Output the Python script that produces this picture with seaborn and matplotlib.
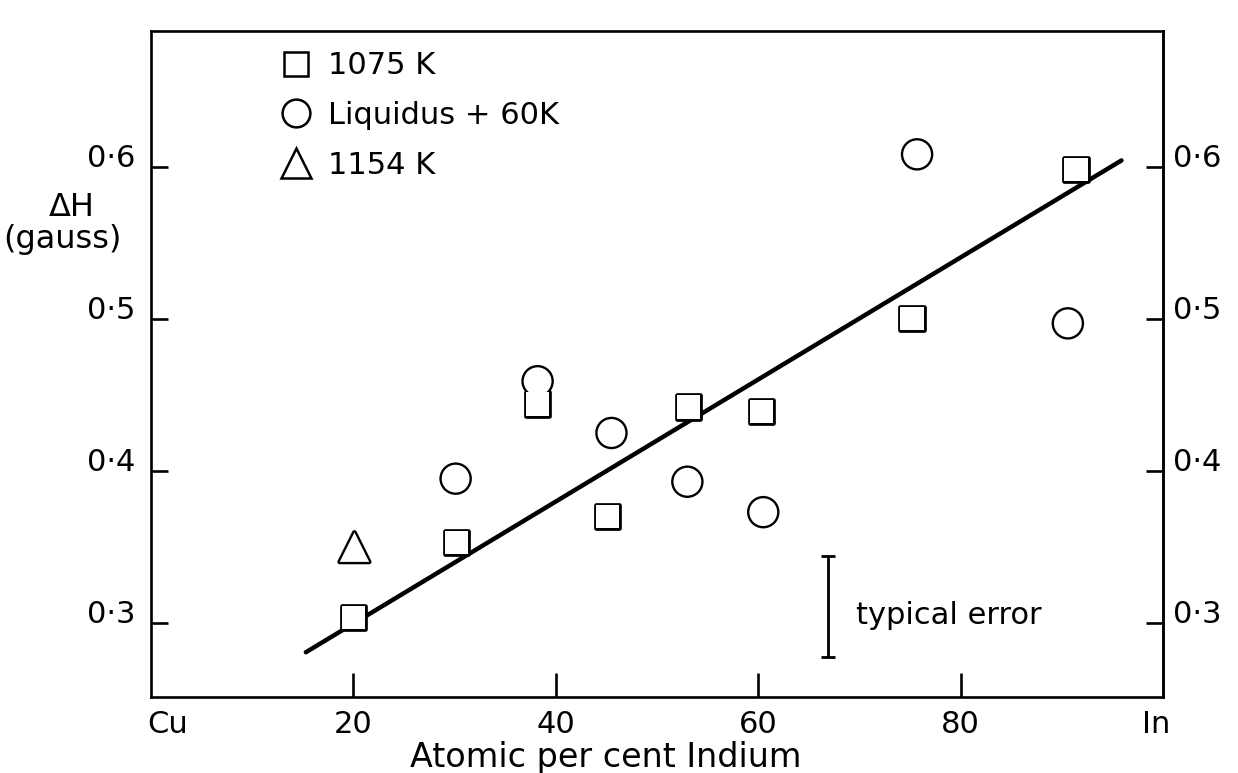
import numpy as np
import pandas as pd
import matplotlib
matplotlib.use("Agg")
import matplotlib.pyplot as plt
import seaborn as sns
from matplotlib.lines import Line2D
from matplotlib.ticker import FixedLocator, FixedFormatter

# --- data -----------------------------------------------------------------
series_names = ["1075 K", "Liquidus + 60K", "1154 K"]

sq_x = [20.0, 30.2, 38.2, 45.1, 53.1, 60.3, 75.2, 91.4]
sq_y = [0.304, 0.353, 0.444, 0.370, 0.442, 0.439, 0.500, 0.598]

ci_x = [30.1, 38.2, 45.5, 53.0, 60.5, 75.7, 90.6]
ci_y = [0.395, 0.459, 0.425, 0.393, 0.373, 0.608, 0.497]

tri_x = [20.1]
tri_y = [0.350]

fit_x = [15.3, 95.9]
fit_y = [0.281, 0.604]

err_x = [66.9]
err_y = [0.311]
err_half = [0.033]

y_ticks = [0.3, 0.4, 0.5, 0.6]
y_tick_labels = ["0·3", "0·4", "0·5", "0·6"]
x_ticks = [20, 40, 60, 80]
x_tick_labels = ["20", "40", "60", "80"]
end_ticks = [1.6, 99.3]
end_labels = ["Cu", "In"]

# --- styling --------------------------------------------------------------
sns.set_style("white")
plt.rcParams["font.family"] = ["DejaVu Sans"]
FS_TICK_X = 22
FS_TICK_Y = 22
FS_TEXT = 22
INK = "black"
LW_AX = 1.9

df = pd.DataFrame({
    "x": sq_x + ci_x + tri_x,
    "y": sq_y + ci_y + tri_y,
    "series": [series_names[0]] * len(sq_x)
              + [series_names[1]] * len(ci_x)
              + [series_names[2]] * len(tri_x),
})
markers = {series_names[0]: "s", series_names[1]: "o", series_names[2]: "^"}
sizes = {series_names[0]: 280, series_names[1]: 400, series_names[2]: 450}

fig = plt.figure(figsize=(12.38, 7.73), dpi=100)
ax = fig.add_axes([0.122, 0.0983, 0.8174, 0.8616])

# straight-line fit
sns.lineplot(x=fit_x, y=fit_y, color=INK, linewidth=3.2, ax=ax, zorder=2,
             solid_capstyle="round")

# open symbols: outlined layer, then a white layer so overlapping
# outlines merge into one contour
common = dict(data=df, x="x", y="y", style="series", markers=markers,
              size="series", sizes=sizes, legend=False, ax=ax)
sns.scatterplot(**common, facecolor="white", edgecolor=INK, linewidth=3.4,
                zorder=3)
sns.scatterplot(**common, facecolor="white", edgecolor="white", linewidth=0,
                zorder=4)

# typical error bar
ax.errorbar(err_x, err_y, yerr=err_half, fmt="none", ecolor=INK,
            elinewidth=2.0, capsize=5, capthick=2.0, zorder=3)
ax.text(69.7, 0.305, "typical error", fontsize=FS_TEXT, va="center",
        ha="left", color=INK)

# axes frame and scales
ax.set_xlim(0, 100)
ax.set_ylim(0.2516, 0.689)
for s in ax.spines.values():
    s.set_visible(True)
    s.set_color(INK)
    s.set_linewidth(LW_AX)

ax.xaxis.set_major_locator(FixedLocator(x_ticks))
ax.xaxis.set_major_formatter(FixedFormatter(x_tick_labels))
ax.xaxis.set_minor_locator(FixedLocator(end_ticks))
ax.xaxis.set_minor_formatter(FixedFormatter(end_labels))
ax.tick_params(axis="x", which="major", direction="in", length=17,
               width=LW_AX, colors=INK, labelsize=FS_TICK_X, pad=9,
               bottom=True, top=False)
ax.tick_params(axis="x", which="minor", direction="in", length=0,
               labelsize=FS_TICK_X, pad=9, labelcolor=INK)

ax.yaxis.set_major_locator(FixedLocator(y_ticks))
ax.yaxis.set_major_formatter(FixedFormatter(y_tick_labels))
ax.yaxis.set_minor_locator(FixedLocator([]))
ax.tick_params(axis="y", which="major", direction="in", length=12,
               width=LW_AX, colors=INK, labelsize=FS_TICK_Y, pad=11,
               left=True, right=False)

# right-hand scale repeats the left one
ax_r = ax.secondary_yaxis("right")
ax_r.yaxis.set_major_locator(FixedLocator(y_ticks))
ax_r.yaxis.set_major_formatter(FixedFormatter(y_tick_labels))
ax_r.tick_params(axis="y", which="major", direction="in", length=12,
                 width=LW_AX, colors=INK, labelsize=FS_TICK_Y, pad=7)
ax_r.tick_params(axis="y", which="minor", length=0)
ax_r.spines["right"].set_linewidth(LW_AX)

for t in ax.yaxis.get_major_ticks():
    t.label1.set_verticalalignment("baseline")
for t in ax_r.yaxis.get_major_ticks():
    t.label2.set_verticalalignment("baseline")
    t.label1.set_verticalalignment("baseline")

ax.set_xlabel("Atomic per cent Indium", fontsize=24, color=INK)
ax.xaxis.set_label_coords(0.4496, -0.066)
ax.set_ylabel("")

fig.text(72 / 1238, 1 - 208 / 773, "ΔH", fontsize=23, ha="center",
         va="center", color=INK)
fig.text(62 / 1238, 1 - 240 / 773, "(gauss)", fontsize=23, ha="center",
         va="center", color=INK)

# legend
handles = [
    Line2D([], [], ls="", marker=markers[n], markersize=np.sqrt(sizes[n]),
           markerfacecolor="white", markeredgecolor=INK, markeredgewidth=1.8)
    for n in series_names
]
ax.legend(handles, series_names, loc="upper left",
          bbox_to_anchor=(0.1282, 0.9695), frameon=False, fontsize=FS_TEXT,
          handlelength=1.0, handletextpad=0.55, borderpad=0,
          borderaxespad=0, labelspacing=0.68, labelcolor=INK)

fig.savefig("out.png", dpi=100, facecolor="white")
